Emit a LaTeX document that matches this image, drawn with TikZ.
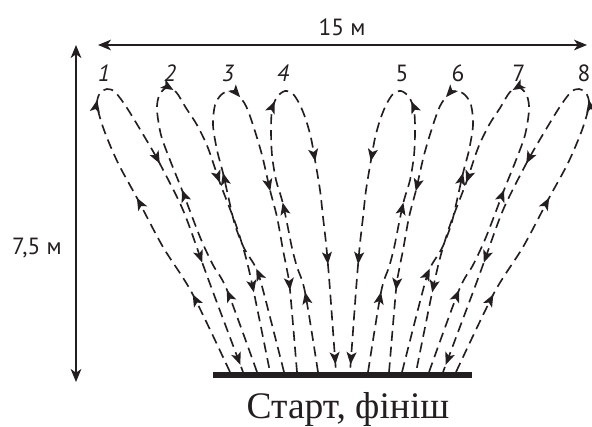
\documentclass[tikz,border=0pt]{standalone}
\usepackage{fontspec}
\setmainfont{Liberation Serif}
\newfontfamily\labelsf{PT Sans}
\usetikzlibrary{arrows.meta,decorations.markings}
\definecolor{ink}{RGB}{35,31,32}

\newcommand\runtip{\arrow{Stealth[length=10.5pt,width=8.5pt,inset=2.5pt]}}
\tikzset{
  run/.style={draw=ink, line width=1.4pt, dash pattern=on 8.5pt off 5pt,
    postaction={decorate}, decoration={markings}},
  tipat/.style={/pgf/decoration/mark={at position #1 with {\runtip}}},
  dimline/.style={draw=ink, line width=1.5pt,
    {Stealth[length=11pt,width=9pt,inset=3pt]}-{Stealth[length=11pt,width=9pt,inset=3pt]}},
  numlabel/.style={font=\labelsf\fontsize{20}{20}\selectfont, text=ink, inner sep=0pt},
}

% the four loops of the left half; the right half is its mirror image
\newcommand\lefthalf{%
  % loop 1
  \draw[run, tipat/.list={0.135,0.31,0.477,0.648,0.817,0.988}] plot[smooth] coordinates {
    (230,372) (192,293) (163,247) (137,198) (118,163) (104,130) (97,105) (100,93)
    (107,89) (115,92) (127,108) (147,141) (160,164) (183,210) (202,262) (213,292) (243,372)};
  % loop 2
  \draw[run, tipat/.list={0.142,0.321,0.511,0.681,0.868}] plot[smooth] coordinates {
    (257,372) (227,290) (213,265) (200,237) (182,190) (170,160) (161,135) (157,110) (159,96)
    (166,88) (176,92) (186,108) (197,125) (208,148) (220,183) (236,225) (246,258) (254,293) (270,372)};
  % loop 3
  \draw[run, tipat/.list={0.18,0.352,0.525,0.692,0.862}] plot[smooth] coordinates {
    (284,372) (263,290) (256,268) (244,248) (235,225) (229,200) (223,173) (217,150) (213,125)
    (215,105) (221,95) (229,91) (238,95) (246,106) (253,125) (262,155) (270,190) (277,217)
    (283,250) (287,270) (290,290) (297,372)};
  % loop 4
  \draw[run, tipat/.list={0.139,0.297,0.474,0.637,0.815,0.987}] plot[smooth] coordinates {
    (318,372) (305,292) (297,267) (292,248) (287,223) (282,200) (276,180) (272,155) (271,130)
    (272,110) (277,97) (285,91) (293,94) (300,105) (306,120) (311,138) (315,160) (320,190)
    (323,217) (326,243) (328,265) (330,290) (336,372)};
}

\begin{document}
\begin{tikzpicture}[x=0.03cm, y=-0.03cm]
\useasboundingbox (0,0) rectangle (592,427);

% dimensions
\coordinate (wL) at (98,45);
\coordinate (wR) at (587,45);
\draw[dimline] (wL) -- (wR);
\node[numlabel] (width) at (342,27) {15 м};
\coordinate (hT) at (76,45);
\coordinate (hB) at (76,382);
\draw[dimline] (hT) -- (hB);
\node[numlabel] (depth) at (37,248) {7,5 м};

% start / finish line
\coordinate (sL) at (213,375);
\coordinate (sR) at (472,375);
\draw[ink, line width=4.3pt] (sL) -- (sR);
\node[anchor=base, text=ink, font=\fontsize{32}{32}\selectfont, inner sep=0pt] (goal) at (348,418) {Старт, фініш};

% cone numbers
\node[numlabel] (n1) at (104,73) {\itshape 1};
\node[numlabel] (n2) at (170,73) {\itshape 2};
\node[numlabel] (n3) at (228,73) {\itshape 3};
\node[numlabel] (n4) at (283,73) {\itshape 4};
\node[numlabel] (n5) at (402,73) {5};
\node[numlabel] (n6) at (458,73) {6};
\node[numlabel] (n7) at (519,73) {7};
\node[numlabel] (n8) at (584,73) {8};

% runs
\lefthalf
\begin{scope}[xshift=20.58cm, xscale=-1]
  \lefthalf
\end{scope}
\end{tikzpicture}
\end{document}
